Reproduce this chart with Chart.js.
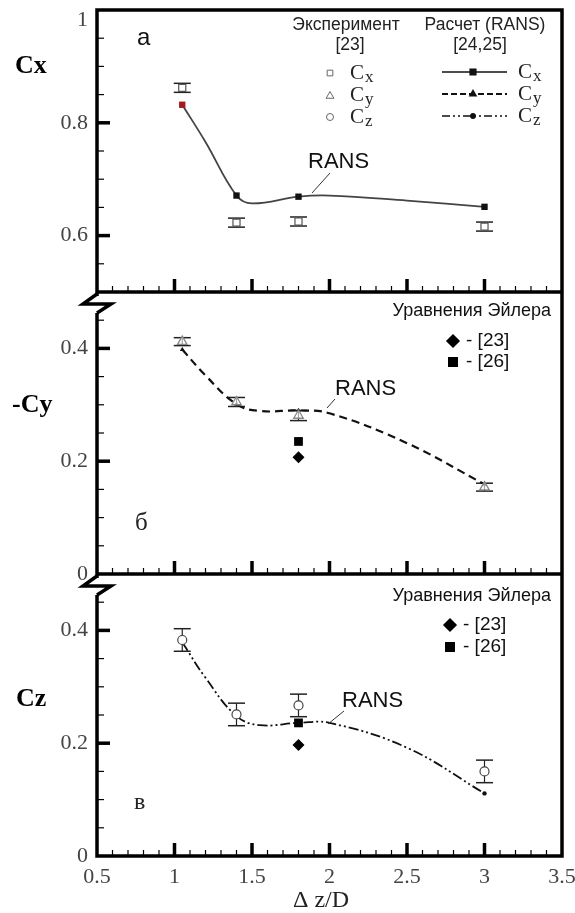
<!DOCTYPE html>
<html>
<head>
<meta charset="utf-8">
<script src="https://cdn.jsdelivr.net/npm/chart.js@4.4.0/dist/chart.umd.min.js"></script>
<style>
  html, body { margin: 0; padding: 0; background: #fff; }
  #wrap { position: relative; width: 575px; height: 913px; }
</style>
</head>
<body>
<div id="wrap"><canvas id="coeffChart" width="575" height="913"></canvas></div>
<script>
// Spacing dz/D
const ransX = [1.05, 1.4, 1.8, 3.0];
const expX = [1.05, 1.4, 1.8, 3.0];
const eulerX = [1.8];

// RANS curves (markers only at ransX)
const cxCurveX = [1.05, 1.2, 1.4, 1.5, 1.8, 2.0, 2.5, 3.0];
const cxCurve = [0.832, 0.766, 0.671, 0.657, 0.669, 0.671, 0.662, 0.651];
const cyzCurveX = [1.05, 1.2, 1.4, 1.55, 1.8, 2.0, 2.5, 3.0];
const cyCurve = [0.398, 0.352, 0.301, 0.289, 0.290, 0.285, 0.232, 0.159];
const czCurve = [0.379, 0.316, 0.248, 0.232, 0.236, 0.236, 0.192, 0.111];

// Panel a - Cx
const ransCx = [0.832, 0.671, 0.669, 0.651];
const expCx = [0.862, 0.623, 0.625, 0.616];
const expCxErr = [0.008, 0.008, 0.008, 0.008];

// Panel b - (-Cy)
const ransCy = [0.398, 0.301, 0.290, 0.159];
const expCy = [0.412, 0.305, 0.281, 0.154];
const expCyErr = [0.007, 0.008, 0.009, 0.007];
const eulerCy23 = [0.207];
const eulerCy26 = [0.235];

// Panel c - Cz
const ransCz = [0.379, 0.248, 0.236, 0.111];
const expCz = [0.383, 0.251, 0.267, 0.150];
const expCzErr = [0.020, 0.020, 0.020, 0.020];
const eulerCz23 = [0.197];
const eulerCz26 = [0.236];

// Tick labels
const xTickLabels = [0.5, 1, 1.5, 2, 2.5, 3, 3.5];
const cxTickLabels = [0.6, 0.8, 1];
const cyzTickLabels = [0, 0.2, 0.4];

const SERIF = "'Liberation Serif', 'Times New Roman', serif";
const SANS = "'Liberation Sans', Arial, sans-serif";

function pts(xs, ys) {
  return xs.map((x, i) => ({ x: x, y: ys[i] }));
}

function inList(v, list) {
  return list.some(l => Math.abs(l - v) < 1e-6);
}

function fmt(v) {
  return String(Math.round(v * 10) / 10);
}

// one small dataset per error bar, caps are 'line' point markers
function errorBars(xs, ys, errs, axis) {
  return xs.map((x, i) => ({
    data: [{ x: x, y: ys[i] - errs[i] }, { x: x, y: ys[i] + errs[i] }],
    yAxisID: axis,
    showLine: true,
    borderColor: '#222',
    borderWidth: 1.2,
    pointStyle: 'line',
    pointRadius: 8.5,
    pointBorderColor: '#222',
    pointBorderWidth: 1.5,
    order: 5
  }));
}

function curve(xs, ys, axis, color, width, dash) {
  return {
    data: pts(xs, ys), yAxisID: axis, showLine: true, tension: 0.4,
    borderColor: color, borderWidth: width, borderDash: dash,
    pointRadius: 0, order: 3
  };
}

function yAxis(min, max, labels) {
  return {
    type: 'linear',
    position: 'left',
    stack: 'panels',
    stackWeight: 1,
    min: min,
    max: max,
    ticks: {
      stepSize: 0.05,
      autoSkip: false,
      padding: 9,
      color: '#444',
      font: { family: SERIF, size: 22, lineHeight: 0.9 },
      callback: v => {
        if (!inList(v, labels)) return '';
        // top label sits a little inside the panel
        if (Math.abs(v - max) < 1e-6) return ['', fmt(v)];
        return fmt(v);
      }
    },
    grid: { display: false, drawTicks: false },
    border: { display: false },
    afterFit: s => { s.width = 97; s.paddingTop = 0; s.paddingBottom = 0; }
  };
}

// frame, inward ticks and axis breaks
const framePlugin = {
  id: 'framePlugin',
  afterDraw(chart) {
    const ctx = chart.ctx;
    const area = chart.chartArea;
    const xs = chart.scales.x;
    const panels = [
      { sc: chart.scales.y1, labels: cxTickLabels },
      { sc: chart.scales.y2, labels: cyzTickLabels },
      { sc: chart.scales.y3, labels: cyzTickLabels }
    ];
    ctx.save();
    ctx.strokeStyle = '#000';

    panels.forEach(p => {
      // y ticks
      p.sc.ticks.forEach(t => {
        if (t.value <= p.sc.min + 1e-6 || t.value >= p.sc.max - 1e-6) return;
        const y = p.sc.getPixelForValue(t.value);
        const major = inList(t.value, p.labels);
        ctx.lineWidth = major ? 3.5 : 1.2;
        ctx.beginPath();
        ctx.moveTo(area.left, y);
        ctx.lineTo(area.left + (major ? 13 : 7), y);
        ctx.stroke();
      });
      // x ticks along the panel bottom
      xs.ticks.forEach(t => {
        if (t.value <= xs.min + 1e-6 || t.value >= xs.max - 1e-6) return;
        const x = xs.getPixelForValue(t.value);
        const major = inList(t.value, xTickLabels);
        ctx.lineWidth = major ? 3.5 : 1.2;
        ctx.beginPath();
        ctx.moveTo(x, p.sc.bottom);
        ctx.lineTo(x, p.sc.bottom - (major ? 13 : 6));
        ctx.stroke();
      });
    });

    // outer frame and panel separators
    ctx.lineWidth = 3.5;
    ctx.lineCap = 'square';
    ctx.beginPath();
    ctx.moveTo(area.left, area.top);
    ctx.lineTo(area.right, area.top);
    ctx.moveTo(area.left, area.top);
    ctx.lineTo(area.left, area.bottom);
    ctx.moveTo(area.right, area.top);
    ctx.lineTo(area.right, area.bottom);
    panels.forEach(p => {
      ctx.moveTo(area.left, p.sc.bottom);
      ctx.lineTo(area.right, p.sc.bottom);
    });
    ctx.stroke();

    // axis break marks below panels a and b
    ctx.lineCap = 'butt';
    ctx.lineJoin = 'miter';
    [chart.scales.y1.bottom, chart.scales.y2.bottom].forEach(by => {
      const bx = area.left;
      ctx.fillStyle = '#fff';
      ctx.fillRect(bx - 3, by + 4, 6, 17);
      ctx.lineWidth = 3.5;
      ctx.beginPath();
      ctx.moveTo(bx, by + 2);
      ctx.lineTo(bx - 14, by + 12);
      ctx.lineTo(bx + 14, by + 12);
      ctx.lineTo(bx, by + 21);
      ctx.stroke();
    });
    ctx.restore();
  }
};

function drawSymbol(ctx, style, r, x, y, fill, stroke, bw) {
  ctx.fillStyle = fill;
  ctx.strokeStyle = stroke;
  Chart.helpers.drawPoint(ctx, { pointStyle: style, radius: r, borderWidth: bw, rotation: 0 }, x, y);
}

function text(ctx, str, x, y, font, align, color) {
  ctx.font = font;
  ctx.textAlign = align || 'left';
  ctx.textBaseline = 'middle';
  ctx.fillStyle = color || '#000';
  ctx.fillText(str, x, y);
}

function subLabel(ctx, main, sub, x, y) {
  ctx.fillStyle = '#222';
  ctx.textAlign = 'left';
  ctx.textBaseline = 'alphabetic';
  ctx.font = '21px ' + SERIF;
  ctx.fillText(main, x, y + 7);
  const w = ctx.measureText(main).width;
  ctx.font = '17px ' + SERIF;
  ctx.fillText(sub, x + w + 1, y + 10);
}

function leader(ctx, x1, y1, x2, y2) {
  ctx.strokeStyle = '#333';
  ctx.lineWidth = 1;
  ctx.setLineDash([]);
  ctx.beginPath();
  ctx.moveTo(x1, y1);
  ctx.lineTo(x2, y2);
  ctx.stroke();
}

// titles, panel letters, legends and notes
const notesPlugin = {
  id: 'notesPlugin',
  afterDraw(chart) {
    const ctx = chart.ctx;
    ctx.save();
    const bold = 'bold 26px ' + SERIF;
    text(ctx, 'Cx', 15, 66, bold);
    text(ctx, '-Cy', 12, 405, bold);
    text(ctx, 'Cz', 16, 699, bold);

    text(ctx, 'а', 137, 38, '24px ' + SANS, 'left', '#111');
    text(ctx, 'б', 135, 523, '25px ' + SERIF, 'left', '#222');
    text(ctx, 'в', 134, 803, '24px ' + SERIF, 'left', '#222');

    text(ctx, 'Δ z/D', 321, 901, '24px ' + SERIF, 'center', '#222');

    // legend, panel a
    const lf = '17.5px ' + SANS;
    text(ctx, 'Эксперимент', 346, 25, lf, 'center', '#222');
    text(ctx, '[23]', 350, 45, lf, 'center', '#222');
    text(ctx, 'Расчет (RANS)', 485, 25, lf, 'center', '#222');
    text(ctx, '[24,25]', 480, 45, lf, 'center', '#222');

    drawSymbol(ctx, 'rect', 4, 330, 73, '#fff', '#666', 1);
    drawSymbol(ctx, 'triangle', 4.5, 330, 96, '#fff', '#666', 1);
    drawSymbol(ctx, 'circle', 3.5, 330, 117, '#fff', '#666', 1);
    subLabel(ctx, 'C', 'x', 350, 72);
    subLabel(ctx, 'C', 'y', 350, 94);
    subLabel(ctx, 'C', 'z', 350, 116);

    const lines = [
      { y: 72, dash: [], w: 1.5, style: 'rect', r: 4 },
      { y: 94, dash: [6, 3], w: 2, style: 'triangle', r: 3 },
      { y: 116, dash: [8, 3, 2, 3, 2, 3], w: 1.5, style: 'circle', r: 2.2 }
    ];
    lines.forEach(l => {
      ctx.strokeStyle = '#111';
      ctx.lineWidth = l.w;
      ctx.setLineDash(l.dash);
      ctx.beginPath();
      ctx.moveTo(442, l.y);
      ctx.lineTo(507, l.y);
      ctx.stroke();
      ctx.setLineDash([]);
      drawSymbol(ctx, l.style, l.r, 473, l.y, '#111', '#111', 1);
    });
    subLabel(ctx, 'C', 'x', 518, 71);
    subLabel(ctx, 'C', 'y', 518, 93);
    subLabel(ctx, 'C', 'z', 518, 115);

    // legends, panels b and c
    const ef = '18px ' + SANS;
    [{ top: 311, d: 341, s: 362, x: 453 }, { top: 596, d: 625, s: 647, x: 450 }].forEach(g => {
      text(ctx, 'Уравнения Эйлера', 551, g.top, ef, 'right', '#111');
      drawSymbol(ctx, 'rectRot', 6, g.x, g.d, '#000', '#000', 1);
      drawSymbol(ctx, 'rect', 6, g.x, g.s, '#000', '#000', 1);
      text(ctx, '- [23]', g.x + 13, g.d, '19px ' + SANS, 'left', '#111');
      text(ctx, '- [26]', g.x + 13, g.s, '19px ' + SANS, 'left', '#111');
    });

    // RANS notes with leader lines
    const rf = '22px ' + SANS;
    text(ctx, 'RANS', 308, 162, rf, 'left', '#111');
    leader(ctx, 330, 173, 312, 193);
    text(ctx, 'RANS', 335, 389, rf, 'left', '#111');
    leader(ctx, 335, 399, 327, 408);
    text(ctx, 'RANS', 342, 701, rf, 'left', '#111');
    leader(ctx, 344, 711, 328, 724);
    ctx.restore();
  }
};

const datasets = [
  // panel a
  curve(cxCurveX, cxCurve, 'y1', '#444', 1.8, []),
  {
    data: pts(ransX, ransCx), yAxisID: 'y1', showLine: false,
    pointStyle: 'rect', pointRadius: 4.5, pointBorderWidth: 0,
    pointBackgroundColor: ransX.map((x, i) => i === 0 ? '#a31b1b' : '#111'),
    order: 2
  },
  {
    data: pts(expX, expCx), yAxisID: 'y1', showLine: false,
    pointStyle: 'rect', pointRadius: 5, pointBackgroundColor: '#fff',
    pointBorderColor: '#555', pointBorderWidth: 1.2, order: 1
  },
  ...errorBars(expX, expCx, expCxErr, 'y1'),

  // panel b
  curve(cyzCurveX, cyCurve, 'y2', '#111', 2.2, [8, 5]),
  {
    data: pts(ransX, ransCy), yAxisID: 'y2', showLine: false,
    pointStyle: 'triangle', pointRadius: 2.8, pointBorderWidth: 0,
    pointBackgroundColor: '#111', order: 2
  },
  {
    data: pts(expX, expCy), yAxisID: 'y2', showLine: false,
    pointStyle: 'triangle', pointRadius: 5.5, pointBackgroundColor: 'rgba(255,255,255,0.6)',
    pointBorderColor: '#888', pointBorderWidth: 1.3, order: 1
  },
  ...errorBars(expX, expCy, expCyErr, 'y2'),
  {
    data: pts(eulerX, eulerCy23), yAxisID: 'y2', showLine: false,
    pointStyle: 'rectRot', pointRadius: 6, pointBackgroundColor: '#000',
    pointBorderWidth: 0, order: 1
  },
  {
    data: pts(eulerX, eulerCy26), yAxisID: 'y2', showLine: false,
    pointStyle: 'rect', pointRadius: 6.2, pointBackgroundColor: '#000',
    pointBorderWidth: 0, order: 1
  },

  // panel c
  curve(cyzCurveX, czCurve, 'y3', '#111', 1.8, [10, 3, 2, 3, 2, 3]),
  {
    data: pts(ransX, ransCz), yAxisID: 'y3', showLine: false,
    pointStyle: 'circle', pointRadius: 2.2, pointBorderWidth: 0,
    pointBackgroundColor: '#111', order: 2
  },
  {
    data: pts(expX, expCz), yAxisID: 'y3', showLine: false,
    pointStyle: 'circle', pointRadius: 4.5, pointBackgroundColor: '#fff',
    pointBorderColor: '#444', pointBorderWidth: 1.2, order: 1
  },
  ...errorBars(expX, expCz, expCzErr, 'y3'),
  {
    data: pts(eulerX, eulerCz23), yAxisID: 'y3', showLine: false,
    pointStyle: 'rectRot', pointRadius: 6, pointBackgroundColor: '#000',
    pointBorderWidth: 0, order: 1
  },
  {
    data: pts(eulerX, eulerCz26), yAxisID: 'y3', showLine: false,
    pointStyle: 'rect', pointRadius: 6.2, pointBackgroundColor: '#000',
    pointBorderWidth: 0, order: 0
  }
];

new Chart(document.getElementById('coeffChart'), {
  type: 'scatter',
  data: { datasets: datasets },
  options: {
    responsive: false,
    animation: false,
    devicePixelRatio: 1,
    events: [],
    layout: { padding: { left: 0, top: 9, right: 13, bottom: 0 } },
    plugins: { legend: { display: false }, tooltip: { enabled: false } },
    scales: {
      x: {
        type: 'linear',
        min: 0.5,
        max: 3.5,
        ticks: {
          stepSize: 0.1,
          autoSkip: false,
          maxRotation: 0,
          padding: 8,
          color: '#444',
          font: { family: SERIF, size: 22 },
          callback: v => inList(v, xTickLabels) ? fmt(v) : ''
        },
        grid: { display: false, drawTicks: false },
        border: { display: false },
        afterFit: s => { s.height = 57; s.paddingLeft = 0; s.paddingRight = 0; }
      },
      // stacked left axes are laid out last-defined first, so c, b, a
      y3: yAxis(0, 0.5, cyzTickLabels),
      y2: yAxis(0, 0.5, cyzTickLabels),
      y1: yAxis(0.5, 1.0, cxTickLabels)
    }
  },
  plugins: [framePlugin, notesPlugin]
});
</script>
</body>
</html>
